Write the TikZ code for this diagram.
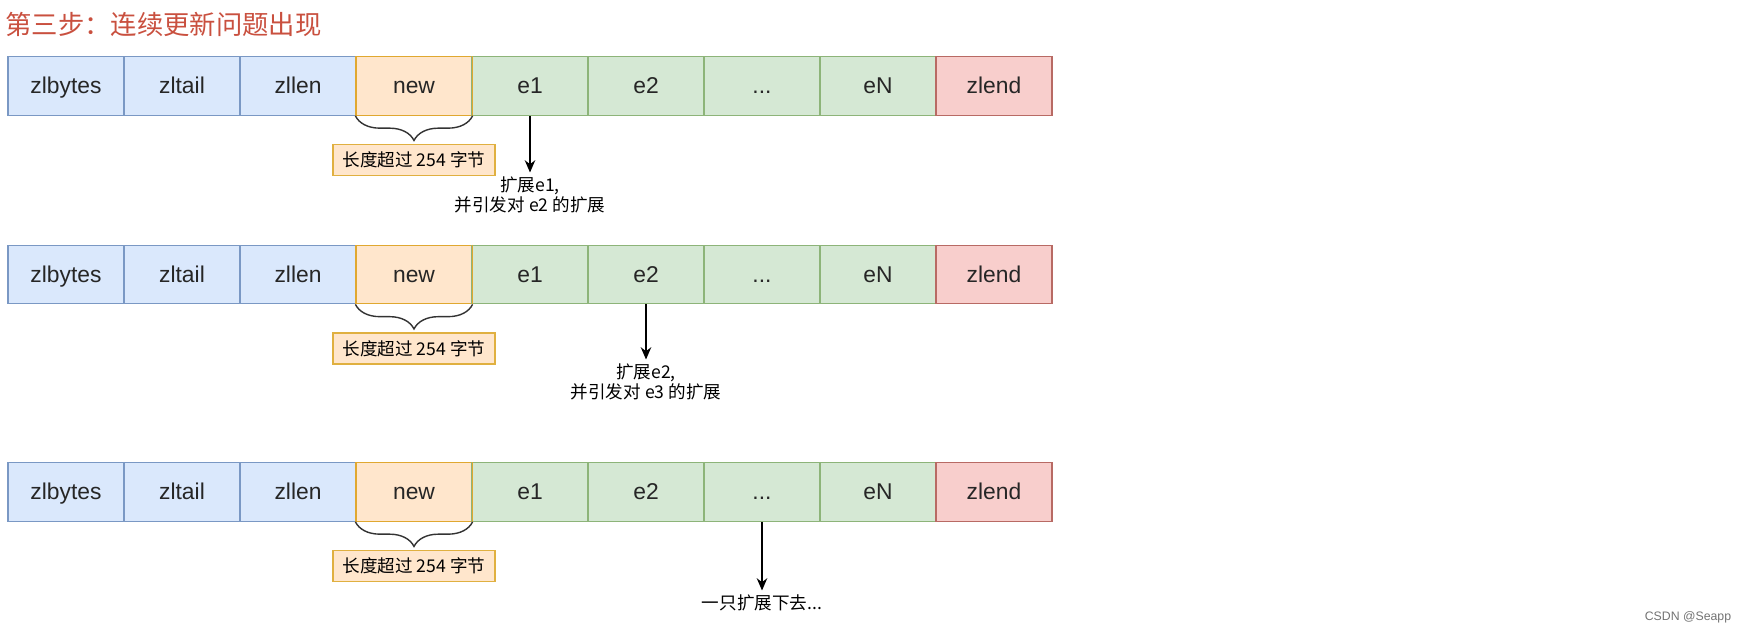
\documentclass[tikz,border=0pt]{standalone}
\usepackage{fontspec}
\usepackage{xcolor}
\setmainfont{Liberation Sans}
\newfontfamily\cjk{Noto Sans CJK SC}
\usetikzlibrary{arrows.meta, decorations.pathreplacing}

\definecolor{hdrfill}{HTML}{DAE8FC}
\definecolor{hdrline}{HTML}{7A98C4}
\definecolor{newfill}{HTML}{FFE6CC}
\definecolor{newline}{HTML}{E0A830}
\definecolor{entfill}{HTML}{D5E8D4}
\definecolor{entline}{HTML}{8DB479}
\definecolor{endfill}{HTML}{F8CECC}
\definecolor{endline}{HTML}{B86A64}
\definecolor{lenline}{HTML}{E0B040}
\definecolor{titlered}{HTML}{C9503F}

\begin{document}
\begin{tikzpicture}[x=0.02cm, y=-0.02cm,
  cell/.style={draw, line width=0.7pt, minimum width=2.32cm, minimum height=1.17cm,
    inner sep=0pt, text height=11pt, text depth=2pt, text=black!85, font=\fontsize{13}{15}\selectfont},
  hdr/.style={cell, fill=hdrfill, draw=hdrline},
  newcell/.style={cell, fill=newfill, draw=newline},
  entry/.style={cell, fill=entfill, draw=entline},
  endcell/.style={cell, fill=endfill, draw=endline},
  lenbox/.style={draw=lenline, fill=newfill, line width=0.7pt, minimum width=3.24cm,
    minimum height=0.62cm, inner sep=0pt, font=\cjk\fontsize{10}{12}\selectfont},
  note/.style={anchor=north, align=center, inner sep=0pt, font=\cjk\fontsize{10}{11.5}\selectfont},
  bracket/.style={decorate, decoration={brace, mirror, amplitude=14pt}, line width=0.8pt, black!80},
  arrow/.style={-{Stealth[length=7pt, width=6pt]}, line width=0.7pt, shorten >=2pt}
]
\useasboundingbox (0,0) rectangle (1739,632);

% title
\node[anchor=west, inner sep=0pt, text=titlered, font=\cjk\fontsize{15}{18}\selectfont] (title) at (5,24) {第三步：连续更新问题出现};

% the three ziplists
\foreach \r/\y in {1/86, 2/274.5, 3/492} {
  \node[hdr] (zlbytes\r) at (66,\y) {zlbytes};
  \node[hdr] (zltail\r) at (182,\y) {zltail};
  \node[hdr] (zllen\r) at (298,\y) {zllen};
  \node[newcell] (new\r) at (414,\y) {new};
  \node[entry] (e1\r) at (530,\y) {e1};
  \node[entry] (e2\r) at (646,\y) {e2};
  \node[entry] (dots\r) at (762,\y) {...};
  \node[entry] (eN\r) at (878,\y) {eN};
  \node[endcell] (zlend\r) at (994,\y) {zlend};
  \draw[newline, line width=0.7pt] (new\r.north east) -- (new\r.south east);
  \draw[bracket] (new\r.south west) -- (new\r.south east);
  \node[lenbox] (len\r) at (414,\y+74) {长度超过 254 字节};
}

% notes and arrows
\node[note] (note1) at (530,176) {扩展e1,\\并引发对 e2 的扩展};
\node[note] (note2) at (646,363) {扩展e2,\\并引发对 e3 的扩展};
\node[note] (note3) at (762,594) {一只扩展下去...};
\draw[arrow] (e11.south) -- (note1.north);
\draw[arrow] (e22.south) -- (note2.north);
\draw[arrow] (dots3.south) -- (note3.north);

\node[text=black!55, font=\fontsize{7}{8}\selectfont] (mark) at (1688,617) {CSDN @Seapp};
\end{tikzpicture}
\end{document}
